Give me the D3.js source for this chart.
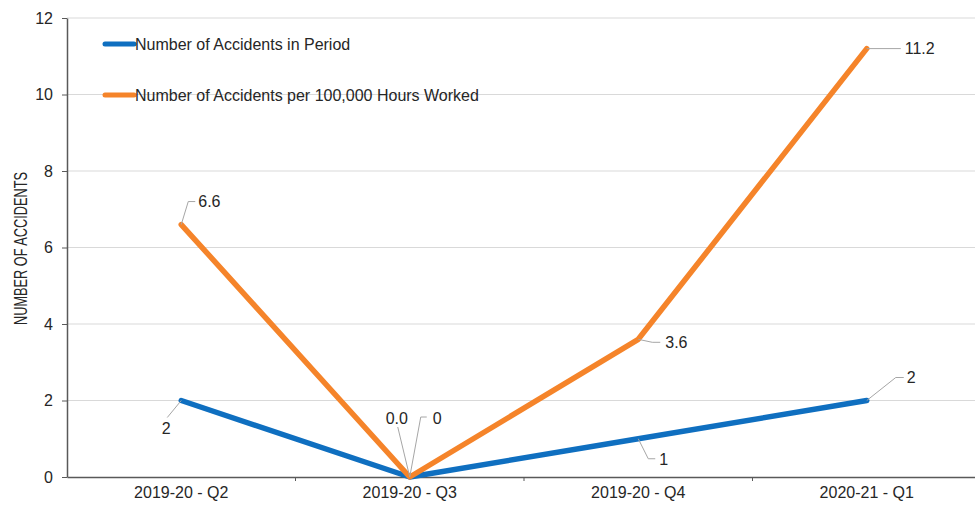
<!DOCTYPE html>
<html>
<head>
<meta charset="utf-8">
<script src="https://cdn.jsdelivr.net/npm/d3@7"></script>
<style>
  html, body { margin: 0; padding: 0; background: #fff; }
  svg { display: block; font-family: "Liberation Sans", Arial, sans-serif; }
</style>
</head>
<body>
<svg id="chart" width="975" height="506"></svg>
<script>
// ---- data ----
const categories = ["2019-20 - Q2", "2019-20 - Q3", "2019-20 - Q4", "2020-21 - Q1"];
const accidentsInPeriod = [2, 0, 1, 2];
const accidentsPer100k = [6.6, 0.0, 3.6, 11.2];
const accidentsLabels = ["2", "0", "1", "2"];
const per100kLabels = ["6.6", "0.0", "3.6", "11.2"];
const seriesNames = ["Number of Accidents in Period", "Number of Accidents per 100,000 Hours Worked"];
const yTicks = [0, 2, 4, 6, 8, 10, 12];
const yTitle = "NUMBER OF ACCIDENTS";

// ---- layout ----
const svg = d3.select("#chart");
const m = { left: 67, top: 18, bottom: 477, right: 981 };
const x = d3.scaleBand().domain(categories).range([m.left, m.right]).paddingInner(0).paddingOuter(0);
const y = d3.scaleLinear().domain([0, 12]).range([m.bottom, m.top]);
const cx = c => x(c) + x.bandwidth() / 2;

const colors = ["#0F6FC0", "#F5842A"];
const axisColor = "#595959";
const fs = "16px";

// gridlines
svg.append("g").selectAll("line").data(yTicks.filter(d => d > 0)).join("line")
  .attr("x1", m.left).attr("x2", 975)
  .attr("y1", d => y(d)).attr("y2", d => y(d))
  .attr("stroke", "#D9D9D9").attr("stroke-width", 1);

// y axis
const yAxis = svg.append("g").attr("transform", `translate(${m.left},0)`)
  .call(d3.axisLeft(y).tickValues(yTicks).tickSize(5).tickSizeOuter(0).tickPadding(9).tickFormat(d3.format("d")));
yAxis.select(".domain").attr("stroke", axisColor).attr("stroke-width", 1.5);
yAxis.selectAll(".tick line").attr("stroke", axisColor);
yAxis.selectAll(".tick text").attr("fill", "#262626").style("font-size", fs).style("font-family", "'Liberation Sans', Arial, sans-serif");

// x axis
const xAxis = svg.append("g").attr("transform", `translate(0,${m.bottom})`)
  .call(d3.axisBottom(x).tickSize(0).tickPadding(10));
xAxis.select(".domain").attr("stroke", axisColor).attr("stroke-width", 1.5);
xAxis.selectAll(".tick text").attr("fill", "#262626").style("font-size", fs).style("font-family", "'Liberation Sans', Arial, sans-serif");
// band boundary ticks
svg.append("g").selectAll("line").data(categories.slice(1)).join("line")
  .attr("x1", d => x(d)).attr("x2", d => x(d))
  .attr("y1", m.bottom).attr("y2", m.bottom + 4)
  .attr("stroke", axisColor).attr("stroke-width", 1);

// y title
svg.append("text")
  .attr("transform", `translate(27,${(172 + 325) / 2}) rotate(-90)`)
  .attr("text-anchor", "middle")
  .attr("fill", "#262626")
  .attr("textLength", 153)
  .attr("lengthAdjust", "spacingAndGlyphs")
  .style("font-family", "'Liberation Sans Narrow', 'Arial Narrow', 'Liberation Sans', sans-serif")
  .style("font-size", "18px")
  .text(yTitle);

// lines
const seriesData = [accidentsInPeriod, accidentsPer100k];
const line = d3.line().x((d, i) => cx(categories[i])).y(d => y(d));
seriesData.forEach((s, k) => {
  svg.append("path").datum(s)
    .attr("fill", "none")
    .attr("stroke", colors[k])
    .attr("stroke-width", 5.5)
    .attr("stroke-linejoin", "round")
    .attr("stroke-linecap", "round")
    .attr("d", line);
});

// data labels with leader lines
const labelOffsets = [
  [ // blue
    { path: [[-14, 17]], tx: -15, ty: 28, anchor: "middle" },
    { path: [[11, -60], [17, -60]], tx: 23, ty: -59, anchor: "start" },
    { path: [[10, 20], [17, 20]], tx: 21, ty: 21, anchor: "start" },
    { path: [[29, -23], [37, -23]], tx: 40, ty: -23, anchor: "start" }
  ],
  [ // orange
    { path: [[7, -23], [14, -23]], tx: 17, ty: -23, anchor: "start" },
    { path: [[-12, -50]], tx: -13, ty: -59, anchor: "middle" },
    { path: [[14, 3], [22, 3]], tx: 27, ty: 3, anchor: "start" },
    { path: [[34, 0]], tx: 38, ty: 0, anchor: "start" }
  ]
];
const labelTexts = [accidentsLabels, per100kLabels];
seriesData.forEach((s, k) => {
  s.forEach((v, i) => {
    const px = cx(categories[i]), py = y(v);
    const o = labelOffsets[k][i];
    const pts = [[px, py]].concat(o.path.map(p => [px + p[0], py + p[1]]));
    svg.append("path")
      .attr("d", d3.line()(pts))
      .attr("fill", "none")
      .attr("stroke", "#A6A6A6")
      .attr("stroke-width", 1);
    svg.append("text")
      .attr("x", px + o.tx).attr("y", py + o.ty)
      .attr("dy", "0.35em")
      .attr("text-anchor", o.anchor)
      .attr("fill", "#262626")
      .style("font-size", fs)
      .text(labelTexts[k][i]);
  });
});

// legend
const legY = [44, 95];
seriesNames.forEach((name, k) => {
  svg.append("line")
    .attr("x1", 105).attr("x2", 134)
    .attr("y1", legY[k]).attr("y2", legY[k])
    .attr("stroke", colors[k]).attr("stroke-width", 5).attr("stroke-linecap", "round");
  svg.append("text")
    .attr("x", 135).attr("y", legY[k]).attr("dy", "0.35em")
    .attr("fill", "#262626").style("font-size", fs)
    .text(name);
});
</script>
</body>
</html>
